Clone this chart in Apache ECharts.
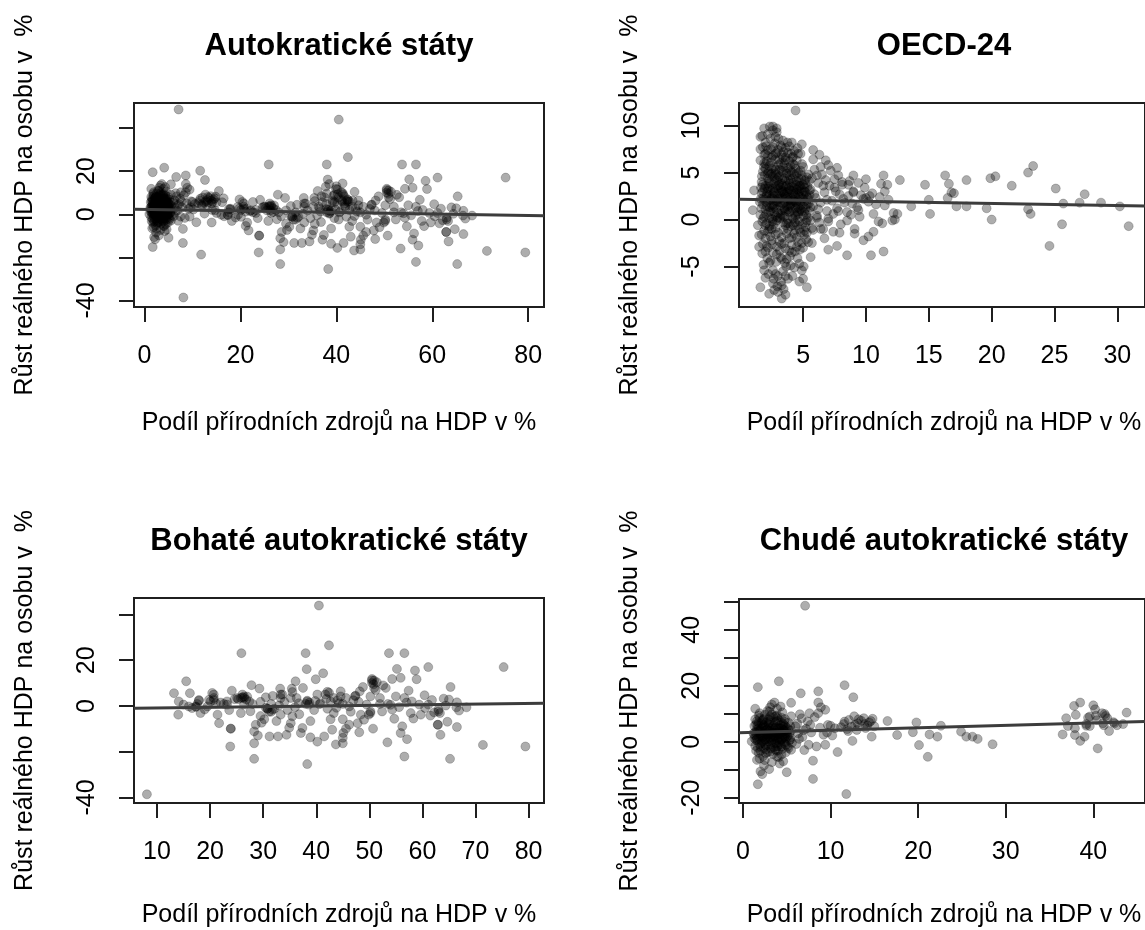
<!DOCTYPE html>
<html><head><meta charset="utf-8">
<script src="https://cdn.jsdelivr.net/npm/echarts@6/dist/echarts.min.js"></script>
<style>html,body{margin:0;padding:0;background:#fff}#c{width:1145px;height:930px}</style>
</head><body><div id="c"></div>
<script>
// ---------- texts ----------
const panelTitles = ["Autokratické státy", "OECD-24", "Bohaté autokratické státy", "Chudé autokratické státy"];
const xAxisTitle = "Podíl přírodních zdrojů na HDP v %";
const yAxisTitle = "Růst reálného HDP na osobu v  %";

// ---------- data (x = share of natural resources in GDP %, y = real GDP per capita growth %) ----------
const richPts = [
[8.1,-38.6],[40.5,43.9],[42.4,26.5],[25.9,23.1],[38.0,23.1],[38.2,16.1],[41.3,14.3],[39.9,11.7],[36.1,10.8],[15.5,10.8],
[13.2,5.6],[16.2,5.6],[24.1,6.7],[27.8,9.1],[29.3,7.6],[33.2,7.6],[35.4,7.6],[20.7,5.0],[17.9,2.3],[20.1,2.0],
[22.6,0.9],[26.1,3.8],[25.1,3.5],[27.0,4.1],[30.5,3.8],[33.3,5.0],[35.2,3.5],[38.3,2.3],[40.2,5.0],[42.4,5.8],
[14.1,2.0],[16.0,-0.2],[18.2,-3.1],[14.0,-3.8],[21.4,-3.8],[21.7,-7.5],[23.9,-9.9],[23.8,-17.7],[28.3,-16.3],[28.3,-23.1],
[28.6,-8.2],[29.0,-12.9],[31.2,-13.3],[32.8,-13.3],[34.4,-12.6],[37.4,-9.6],[37.1,-11.8],[38.3,-25.4],[40.2,-15.6],[41.5,-13.3],
[43.0,-10.4],[43.7,-16.8],[38.9,-6.6],[35.2,-7.5],[32.5,-6.6],[30.2,-5.8],[31.5,-2.5],[33.3,-3.8],[34.6,-1.8],[29.5,-4.4],
[25.8,-3.1],[23.6,-1.8],[30.8,-1.2],[32.1,-1.2],[39.6,-1.8],[42.1,-1.2],[43.3,-3.1],[42.7,-5.8],[21.1,1.2],[17.6,0.9],
[19.5,-0.2],[17.3,-0.2],[26.4,0.6],[28.0,0.9],[29.5,1.8],[31.5,0.9],[34.0,1.8],[36.7,1.2],[38.0,0.9],[40.8,1.2],
[42.7,2.0],[23.2,2.0],[19.8,2.7],[20.7,3.5],[26.1,5.0],[26.4,3.5],[17.9,2.6],[20.4,5.7],[20.7,2.6],[23.2,0.6],
[25.8,3.5],[26.4,4.2],[30.8,-1.2],[31.1,-2.5],[33.3,3.5],[33.6,5.0],[36.3,3.5],[38.3,2.0],[38.6,0.6],[41.7,5.0],
[42.1,6.2],[43.3,3.5],[28.3,-11.1],[23.9,-9.9],[15.0,0.6],[16.6,-0.9],[17.4,-0.4],
[53.7,23.1],[56.6,23.1],[55.2,16.2],[58.6,15.5],[61.1,17.0],[75.3,17.0],[58.9,11.7],[55.9,12.3],[54.3,11.8],[50.5,11.8],
[50.5,10.1],[48.8,8.3],[50.9,7.9],[53.1,7.9],[57.4,6.7],[60.4,4.7],[65.3,8.3],[64.0,3.2],[65.0,2.8],[66.5,1.6],
[66.4,-0.6],[68.3,-0.6],[47.4,4.5],[45.6,3.5],[44.6,6.4],[50.2,4.2],[52.0,3.5],[55.0,4.2],[56.6,3.5],[59.4,0.6],
[61.1,0.6],[63.0,-1.6],[63.3,-3.1],[57.8,-3.1],[59.7,-3.8],[58.3,-5.5],[54.3,-1.6],[52.4,-2.4],[50.2,-3.1],[48.4,-3.8],
[46.2,-8.2],[47.8,-7.5],[45.0,-5.8],[45.1,-11.8],[45.0,-16.3],[48.1,-11.5],[50.7,-9.9],[56.2,-8.9],[55.9,-11.8],[53.4,-15.9],
[56.6,-22.1],[62.9,-8.2],[63.4,-12.6],[66.5,-9.2],[65.2,-23.1],[71.4,-17.0],[79.4,-17.7],[52.0,0.9],[49.5,0.6],[46.2,-0.2],
[45.0,0.9],[50.5,11.2],[50.8,9.5],[47.3,4.3],[50.2,-2.4],[49.9,-3.8],[63.0,-2.4],[62.9,-8.2],[44.6,4.2],[45.0,-13.9],
[24.6,3.0],[27.4,2.0],[36.0,-0.5],[44.0,2.5],[48.0,1.8],[54.0,0.5],[57.0,1.5],[61.8,2.6],[35.5,-4.5],[31.8,4.4],
[25.3,3.0],[26.8,2.8],[30.5,-0.8],[31.8,-1.6],[33.0,0.2],[38.7,1.4],[39.8,2.2],[40.6,0.8],[41.9,3.1],[50.9,11.1],
[51.4,10.4],[51.2,7.0],[52.6,9.0],[47.0,2.5],[44.3,1.2],[43.8,-0.8],[46.5,-2.5],[53.5,0.9],[55.6,-0.5],[58.0,2.0],
[60.5,-0.9],[62.2,-2.8],[64.4,0.2],[22.0,1.5],[19.0,-1.5],[27.6,-2.3],[29.7,-7.3],[34.9,-9.5],[36.8,-3.6],[38.9,-13.7],
[45.6,-9.9],[49.0,-6.0],[54.7,-5.6],[57.1,-14.5],[61.5,-4.2],[64.7,-6.9],[66.9,-2.0],[35.5,6.1],[37.5,7.9],[48.2,6.4]
];

const poorPts = [
[7.1,48.6],[1.7,19.5],[4.1,21.6],[6.6,17.3],[8.6,18.0],[11.6,20.2],[12.6,15.9],[1.4,11.8],[3.3,13.3],[3.1,12.3],
[3.9,11.8],[5.5,13.9],[5.5,9.1],[8.6,14.0],[8.9,12.3],[9.4,11.4],[8.6,10.2],[7.6,10.2],[6.7,8.4],[7.4,7.2],
[9.7,6.0],[12.7,9.1],[13.8,8.4],[14.8,8.2],[11.6,7.2],[13.1,6.6],[14.4,6.9],[11.2,5.2],[14.7,1.8],[12.5,0.3],
[10.8,-3.7],[7.5,-1.1],[8.4,-1.7],[9.4,-1.1],[8.0,-6.8],[8.0,-13.3],[11.8,-18.7],[5.0,-10.9],[3.3,-7.3],[3.9,-5.4],
[2.8,-3.7],[1.8,-4.0],[2.0,-10.6],[2.2,-11.6],[1.7,-15.2],[5.2,-2.3],[5.4,0.7],[1.3,1.3],[1.0,0.1],
[1.5,2.0],[1.6,4.5],[1.8,6.8],[1.9,8.5],[2.0,3.2],[2.1,-0.5],[2.2,1.5],[2.3,5.5],[2.4,-2.2],[2.5,3.8],
[2.6,0.8],[2.7,7.0],[2.8,2.6],[2.9,-1.3],[3.0,4.9],[3.1,1.1],[3.2,6.1],[3.3,-0.2],[3.4,3.3],[3.5,8.8],
[3.6,2.0],[3.7,-2.8],[3.8,5.2],[3.9,0.4],[4.0,3.9],[4.1,7.6],[4.2,1.6],[4.3,-1.0],[4.4,4.6],[4.5,2.4],
[4.6,6.3],[4.7,-0.6],[4.8,3.0],[4.9,1.2],[5.0,5.0],[5.1,-1.8],[5.3,2.8],[5.5,4.0],[1.4,-1.5],[1.7,0.3],
[2.0,-3.3],[2.3,-5.2],[2.6,-4.1],[3.1,-3.6],[3.5,-2.0],[4.0,-3.2],[4.4,-4.6],[4.9,-3.8],[5.6,-0.4],[1.9,10.2],
[2.5,9.6],[3.3,9.8],[3.9,9.4],[4.5,10.5],[2.2,6.2],[2.9,8.0],[3.7,7.0],[4.8,8.1],[5.2,6.8],[6.0,5.5],
[6.3,3.0],[6.8,1.7],[7.2,4.6],[7.8,3.3],[6.1,-0.8],[6.5,9.8],[1.6,-6.5],[2.4,-8.5],[3.0,-9.8],[4.2,-7.8],
[1.3,5.6],[1.2,3.0],[1.4,8.0],[2.8,11.0],[4.3,12.6],[3.6,14.0],[12.8,6.0],[13.5,7.5],[14.2,5.8],[11.9,4.5],
[13.0,4.2],[15.0,5.5],[10.5,4.8],[10.0,5.7],[9.2,2.5],[10.2,2.2],[9.6,3.3],
[1.3,2.4],[1.5,0.6],[1.6,3.6],[1.7,5.9],[1.8,1.8],[1.9,-0.9],[2.0,4.3],[2.1,2.2],[2.2,7.5],[2.3,0.3],
[2.4,3.0],[2.5,5.1],[2.6,-1.4],[2.7,1.9],[2.8,4.5],[2.9,6.3],[3.0,0.0],[3.1,2.9],[3.2,-2.4],[3.3,4.1],
[3.4,1.4],[3.5,5.8],[3.6,-0.7],[3.7,3.1],[3.8,1.7],[3.9,7.3],[4.0,-1.6],[4.1,2.6],[4.2,4.9],[4.3,0.6],
[4.4,6.9],[4.5,-2.6],[4.6,3.5],[4.7,1.5],[4.8,5.6],[4.9,-0.1],[5.0,2.9],[5.2,4.4],[5.4,1.5],[5.5,-2.9],
[1.5,-3.2],[1.9,-6.0],[2.5,-6.6],[3.4,-4.4],[4.1,-5.5],[4.6,-7.0],[1.8,9.4],[2.4,8.1],[3.0,10.8],[3.7,9.1],
[4.4,8.6],[2.0,1.0],[2.7,3.4],[3.4,2.6],[4.0,1.1],[4.6,4.3],[2.2,4.9],[3.0,6.9],[3.6,4.6],[4.2,-0.1],
[1.4,3.4],[1.6,1.1],[1.8,4.8],[2.0,2.3],[2.2,0.1],[2.4,5.9],[2.6,2.8],[2.8,0.9],[3.0,3.8],[3.2,1.7],
[3.4,5.3],[3.6,3.0],[3.8,-0.5],[4.0,4.8],[4.2,2.9],[4.4,0.8],[4.6,5.4],[4.8,1.9],[5.0,3.7],[5.3,0.5],
[1.5,6.2],[1.7,-2.2],[1.9,3.9],[2.1,6.7],[2.3,1.9],[2.5,-0.8],[2.7,4.2],[2.9,2.4],[3.1,7.6],[3.3,0.7],
[3.5,2.2],[3.7,5.0],[3.9,-1.6],[4.1,3.4],[4.3,6.0],[4.5,1.1],[4.7,3.9],[4.9,-1.2],[5.1,2.0],[5.4,5.6],
[2.0,-1.8],[2.6,-2.8],[3.2,-1.0],[3.8,-3.2],[4.4,-1.8],[2.3,8.0],[3.1,9.0],[3.9,8.5],[1.6,7.3],[4.7,7.2],
[11.5,6.3],[12.1,7.8],[12.4,5.4],[13.2,8.0],[13.9,6.3],[14.6,7.4],[12.0,3.8],[14.0,4.9],
[6.2,6.5],[6.9,4.1],[7.7,6.0],[8.2,8.8],[8.8,5.0],[7.0,-3.0],[6.4,1.0],
[16.5,7.4],[17.6,2.4],[19.4,3.4],[19.8,6.9],[20.1,-1.2],[21.1,-5.4],[21.3,2.6],[22.2,1.8],[22.6,5.7],[24.9,3.6],
[25.5,1.8],[26.2,1.8],[26.8,1.0],[28.5,-0.9],[36.5,2.6],[36.9,8.4],[37.8,12.8],[38.5,14.0],[38.0,9.6],[37.9,4.8],
[37.9,2.4],[38.5,0.3],[39.0,1.8],[39.2,5.7],[40.0,13.0],[40.2,11.6],[40.5,-2.4],[39.4,8.6],[40.4,7.7],[41.0,10.2],
[41.4,9.2],[41.8,3.8],[41.2,5.9],[42.3,7.0],[43.8,10.4],[42.7,5.9],[41.3,9.9],[41.6,8.4],[42.4,6.6],[43.4,6.3],
[39.2,6.3],[40.3,9.3],[39.6,5.6],[41.1,6.6],[37.1,5.6],[39.6,9.0]
];

const oecdPts = [
[1.6,0.5],[1.7,2.8],[1.8,5.1],[1.9,-1.2],[2.0,3.6],[2.0,1.1],[2.1,6.2],[2.1,-0.4],[2.2,4.4],[2.2,2.0],
[2.3,0.2],[2.3,5.7],[2.4,3.1],[2.4,-1.8],[2.5,1.5],[2.5,4.9],[2.6,6.8],[2.6,0.0],[2.7,2.5],[2.7,3.9],
[2.8,-0.9],[2.8,5.3],[2.9,1.8],[2.9,7.1],[3.0,3.3],[3.0,0.7],[3.1,4.6],[3.1,-2.3],[3.2,2.2],[3.2,6.0],
[3.3,1.0],[3.3,3.8],[3.4,-0.3],[3.4,5.0],[3.5,2.7],[3.5,0.3],[3.6,4.1],[3.6,6.6],[3.7,1.4],[3.7,-1.5],
[3.8,3.0],[3.8,5.5],[3.9,0.8],[3.9,2.1],[4.0,4.3],[4.0,-0.7],[4.1,3.5],[4.1,1.7],[4.2,5.9],[4.2,0.1],
[4.3,2.6],[4.3,4.8],[4.4,-1.1],[4.4,1.2],[4.5,3.2],[4.5,6.3],[4.6,0.6],[4.6,2.0],[4.7,4.0],[4.7,-0.2],
[4.8,1.5],[4.8,5.2],[4.9,2.9],[5.0,0.4],[5.0,3.7],[5.1,1.9],[5.2,-0.8],[5.3,4.5],[5.4,2.3],[5.5,0.9],
[1.7,4.0],[1.8,1.6],[1.9,6.9],[2.0,-2.0],[2.2,7.4],[2.3,3.5],[2.4,0.9],[2.5,-1.0],[2.6,2.2],[2.7,5.6],
[2.8,0.4],[2.9,4.2],[3.0,-1.4],[3.1,2.8],[3.2,0.2],[3.3,6.9],[3.4,1.7],[3.5,4.4],[3.6,-0.6],[3.7,3.6],
[3.8,1.1],[3.9,6.2],[4.0,2.4],[4.1,-1.9],[4.2,3.9],[4.3,0.7],[4.4,5.4],[4.5,1.6],[4.6,3.4],[4.7,2.5],
[4.8,-1.4],[4.9,4.7],[5.1,3.0],[5.2,1.2],[5.3,-0.1],[2.1,2.7],[2.6,4.6],[3.0,1.9],[3.5,-2.5],[4.0,0.9],
[3.3,2.4],[2.8,3.4],[3.7,4.9],[4.4,2.8],[3.9,-2.0],
[1.55,1.9],[1.65,3.4],[1.75,-0.2],[1.85,2.3],[1.95,4.7],[2.05,0.6],[2.15,3.0],[2.25,5.1],[2.35,1.3],[2.45,6.1],
[2.55,2.6],[2.65,-0.5],[2.75,4.4],[2.85,1.1],[2.95,3.6],[3.05,5.8],[3.15,0.1],[3.25,2.9],[3.35,4.3],[3.45,-1.1],
[3.55,1.9],[3.65,5.2],[3.75,2.4],[3.85,-0.4],[3.95,3.9],[4.05,1.3],[4.15,6.6],[4.25,2.1],[4.35,-0.3],[4.45,3.7],
[4.55,0.8],[4.65,5.0],[4.75,1.9],[4.85,3.3],[4.95,-0.5],[5.05,2.6],[5.15,4.2],[5.25,0.5],[5.35,3.5],[5.45,1.7],
[1.6,6.3],[1.7,-1.6],[1.8,3.0],[1.9,0.3],[2.0,5.4],[2.1,1.8],[2.2,-1.3],[2.3,2.6],[2.4,4.8],[2.5,0.1],
[2.6,3.3],[2.7,1.4],[2.8,6.4],[2.9,-0.1],[3.0,2.5],[3.1,5.3],[3.2,1.5],[3.3,-1.9],[3.4,3.6],[3.5,6.0],
[3.6,0.9],[3.7,2.9],[3.8,-1.0],[3.9,4.7],[4.0,1.6],[4.1,5.0],[4.2,-0.6],[4.3,3.4],[4.4,0.4],[4.5,4.9],
[4.6,2.7],[4.7,-1.0],[4.8,3.6],[4.9,0.9],[5.0,5.6],[5.1,-1.2],[5.2,2.9],[5.3,1.6],[5.5,3.1],[5.6,-0.1],
[2.05,7.8],[2.45,7.5],[2.75,8.1],[3.05,8.6],[3.45,7.2],[3.75,8.2],[4.05,7.0],[4.55,7.6],[1.75,8.9],[2.35,9.9],
[1.75,-3.6],[2.15,-4.1],[2.55,-2.6],[2.85,-4.5],[3.15,-3.3],[3.55,-4.6],[3.95,-3.9],[4.35,-3.4],[4.75,-3.2],[5.25,-2.1],
[2.25,-5.8],[2.65,-6.3],[3.25,-6.6],[3.65,-5.0],[4.15,-6.0],[4.55,-4.1],[5.05,-5.0],[1.85,-4.8],[2.95,-7.1],[3.45,-7.4],
[1.9,2.1],[2.3,4.1],[2.7,0.8],[3.1,3.9],[3.5,1.2],[3.9,3.2],[4.3,1.9],[4.7,3.0],[5.1,0.8],[2.5,2.3],
[3.0,4.4],[3.4,2.9],[3.8,2.0],[4.2,2.8],[4.6,1.3],[2.2,3.3],[2.6,1.2],[3.2,3.4],[3.6,2.5],[4.0,3.1],
[1.62,2.2],[1.72,4.6],[1.82,0.1],[1.92,3.3],[2.02,5.9],[2.12,1.4],[2.22,3.8],[2.32,-0.7],[2.42,2.1],[2.52,5.4],
[2.62,1.6],[2.72,3.0],[2.82,-1.6],[2.92,4.8],[3.02,2.2],[3.12,6.4],[3.22,0.6],[3.32,3.1],[3.42,5.6],[3.52,1.0],
[3.62,3.5],[3.72,-0.4],[3.82,4.2],[3.92,1.5],[4.02,5.2],[4.12,0.3],[4.22,3.0],[4.32,5.8],[4.42,1.8],[4.52,-0.6],
[4.62,4.4],[4.72,0.9],[4.82,2.4],[4.92,5.9],[5.02,1.4],[5.12,3.4],[5.22,-0.3],[5.32,2.1],[5.42,4.8],[5.52,2.6],
[1.68,1.2],[1.78,3.7],[1.88,5.6],[1.98,-0.6],[2.08,2.5],[2.18,4.9],[2.28,0.8],[2.38,3.9],[2.48,6.6],[2.58,-0.2],
[2.68,2.9],[2.78,4.9],[2.88,2.0],[2.98,0.2],[3.08,3.7],[3.18,1.8],[3.28,5.2],[3.38,0.4],[3.48,3.0],[3.58,6.3],
[3.68,2.2],[3.78,0.0],[3.88,3.4],[3.98,5.7],[4.08,2.0],[4.18,4.4],[4.28,-1.5],[4.38,2.4],[4.48,4.1],[4.58,0.0],
[4.68,3.6],[4.78,1.1],[4.88,4.3],[4.98,2.2],[5.08,-1.6],[5.18,3.8],[5.28,2.5],[5.38,0.2],[5.48,4.1],[5.58,1.3],
[2.1,-2.8],[2.5,-2.2],[2.9,-3.7],[3.3,-2.6],[3.7,-4.2],[4.1,-3.5],[4.5,-1.9],[4.9,-2.5],[5.3,-1.4],[2.3,-1.0],
[2.2,6.8],[2.6,7.7],[3.0,7.4],[3.4,6.6],[3.8,7.1],[4.2,6.7],[4.6,7.0],[2.8,7.0],[3.6,7.6],[1.9,6.0],
[2.0,8.2],[2.4,8.6],[2.9,9.3],[3.4,8.4],[3.9,7.8],[4.3,7.3],[1.6,7.5],[2.6,9.5],[3.2,7.9],
[1.8,-2.6],[2.2,-3.0],[2.6,-3.5],[2.9,-2.9],[3.3,-4.2],[3.6,-3.1],[4.1,-2.7],[4.6,-2.4],[5.0,-3.0],[2.4,-4.4],
[2.8,-5.8],[3.4,-5.5],[3.8,-6.3],[4.3,-5.1],[3.0,-7.7],[2.0,-6.2],[4.7,-6.6],[3.6,-8.0],[2.3,-7.9],
[4.4,11.6],[1.9,9.7],[2.6,9.9],[2.9,9.7],[2.2,9.1],[1.6,8.8],[2.8,8.8],[4.1,8.2],[4.9,8.0],[5.8,7.4],
[3.3,7.7],[1.8,7.7],[2.0,7.0],[4.8,7.0],[6.8,6.3],[7.0,5.8],[7.7,5.5],[6.4,5.6],[7.8,4.7],[9.0,4.7],
[11.4,4.7],[12.7,4.2],[10.0,4.3],[11.2,3.8],[11.7,3.7],[9.4,3.9],[6.1,4.7],[8.1,4.0],[8.6,3.7],[6.8,4.2],
[7.5,3.4],[9.0,3.0],[10.0,2.3],[9.8,2.2],[10.3,2.5],[11.5,3.0],[13.6,1.4],[12.5,0.6],[12.1,-0.1],[11.3,-0.4],
[10.6,-1.3],[10.2,-1.8],[9.8,-2.2],[9.1,-1.0],[9.1,-1.5],[8.5,-0.1],[9.4,1.0],[7.8,0.9],[7.0,-0.2],[7.4,-1.3],
[6.6,-1.0],[6.4,-1.0],[6.1,0.4],[5.8,-1.1],[5.7,-2.5],[5.6,-4.0],[5.3,-7.2],[5.0,-6.3],[4.9,-5.4],[4.7,-4.7],
[5.4,-2.4],[7.0,-3.2],[7.7,-2.8],[8.5,-3.8],[10.4,-3.8],[11.4,-3.4],[3.3,-8.4],[1.6,-7.2],[2.6,-6.8],[2.7,-7.5],
[3.0,-6.0],[1.9,-5.4],[2.6,-5.4],[3.6,-6.0],[3.3,-7.0],[4.0,-4.9],[2.3,-4.6],[3.2,-4.0],[1.5,-2.9],[2.0,-3.4],
[3.9,-3.3],[4.5,-2.9],[1.0,1.0],[1.1,3.1],[1.4,-0.6],[1.5,-1.7],[12.3,0.0],
[5.6,3.2],[5.8,1.4],[5.9,5.3],[6.0,2.3],[6.1,0.2],[6.2,3.9],[6.4,1.8],[6.5,4.8],[6.7,2.9],[6.9,0.9],
[7.1,3.6],[7.3,2.0],[7.5,4.3],[7.7,1.2],[7.9,2.7],[8.1,3.7],[8.3,1.8],[8.6,2.5],[8.8,0.5],[9.0,2.9],
[9.3,1.3],[9.6,2.6],[9.9,3.4],[10.2,1.9],[10.5,2.8],[10.8,1.6],[11.1,2.4],[11.5,1.5],[11.8,2.1],[12.2,0.7],
[5.7,-0.9],[6.3,-0.3],[7.0,0.1],[8.0,-0.5],[8.5,0.8],[10.6,0.6],[11.0,-0.2],[9.5,0.3],
[5.7,4.4],[5.9,2.7],[6.2,1.1],[6.6,3.6],[6.9,2.1],[7.2,5.2],[7.4,0.6],[7.6,3.0],[8.2,2.2],[8.9,1.7],
[5.8,6.4],[6.3,6.9],[6.7,-2.0],[7.9,-1.4],[8.7,4.1],
[14.7,3.7],[15.1,0.6],[15.0,2.1],[16.3,4.7],[16.6,3.8],[16.8,2.9],[17.0,2.8],[16.5,2.3],[17.2,1.4],[18.0,4.2],
[18.0,1.4],[19.6,1.2],[20.0,0.0],[19.9,4.4],[20.3,4.6],[21.6,3.6],[22.9,5.0],[23.3,5.7],[22.9,1.1],[23.1,0.6],
[24.6,-2.8],[25.1,3.3],[25.7,1.7],[25.6,-0.5],[27.0,1.8],[27.4,2.7],[28.7,1.8],[30.2,1.4],[30.9,-0.7]
];

// panel 1 ("Autokratické státy") = all autocratic states = rich + poor
const autocPts = richPts.concat(poorPts);

// ---------- axes: extents, ticks, shown labels ----------
const p1X = [-2.2, 83.3], p1Y = [-43, 51.6];
const p2X = [-0.1, 32.2], p2Y = [-9.3, 12.4];
const p3X = [5.67, 82.9], p3Y = [-42.4, 47.2];
const p4X = [-0.45, 45.9], p4Y = [-21.9, 51];

const p1XTicks = [0, 20, 40, 60, 80];
const p1YTicks = [-40, -20, 0, 20, 40];
const p1YLabels = [-40, 0, 20];
const p2XTicks = [5, 10, 15, 20, 25, 30];
const p2YTicks = [-5, 0, 5, 10];
const p2YLabels = [-5, 0, 5, 10];
const p3XTicks = [10, 20, 30, 40, 50, 60, 70, 80];
const p3YTicks = [-40, -20, 0, 20, 40];
const p3YLabels = [-40, 0, 20];
const p4XTicks = [0, 10, 20, 30, 40];
const p4YTicks = [-20, -10, 0, 10, 20, 30, 40, 50];
const p4YLabels = [-20, 0, 20, 40];

// ---------- fitted lines (end points) ----------
const p1Fit = [[-2.2, 2.3], [83.3, -0.65]];
const p2Fit = [[-0.1, 2.15], [32.2, 1.45]];
const p3Fit = [[5.67, -1.0], [82.9, 1.2]];
const p4Fit = [[-0.45, 3.2], [45.9, 7.2]];

// ---------- build chart ----------
const FONT = '"Liberation Sans", Arial, Helvetica, sans-serif';
const BOX = '#1f1f1f';
const grids = [
  {left: 134, top: 103, width: 410, height: 204},
  {left: 739, top: 103, width: 410, height: 204},
  {left: 134, top: 598, width: 410, height: 205},
  {left: 739, top: 599, width: 410, height: 204}
];
const panels = [
  {pts: autocPts, fit: p1Fit, x: p1X, y: p1Y, xt: p1XTicks, yt: p1YTicks, yl: p1YLabels},
  {pts: oecdPts,  fit: p2Fit, x: p2X, y: p2Y, xt: p2XTicks, yt: p2YTicks, yl: p2YLabels},
  {pts: richPts,  fit: p3Fit, x: p3X, y: p3Y, xt: p3XTicks, yt: p3YTicks, yl: p3YLabels},
  {pts: poorPts,  fit: p4Fit, x: p4X, y: p4Y, xt: p4XTicks, yt: p4YTicks, yl: p4YLabels}
];

const tickStyle = {color: BOX, width: 2};
const labelStyle = {fontSize: 25, color: '#000', fontFamily: FONT};

const option = {
  animation: false,
  backgroundColor: '#fff',
  grid: grids.map(g => Object.assign({show: true, borderColor: BOX, borderWidth: 2, backgroundColor: 'transparent'}, g)),
  xAxis: panels.map((p, i) => ({
    type: 'value', gridIndex: i, min: p.x[0], max: p.x[1], position: 'bottom',
    axisLine: {show: false, onZero: false}, splitLine: {show: false},
    axisTick: {show: true, inside: false, length: 15, lineStyle: tickStyle, customValues: p.xt},
    axisLabel: Object.assign({margin: 37, customValues: p.xt, formatter: v => String(v)}, labelStyle)
  })),
  yAxis: panels.map((p, i) => ({
    type: 'value', gridIndex: i, min: p.y[0], max: p.y[1], position: 'left',
    axisLine: {show: false, onZero: false}, splitLine: {show: false},
    axisTick: {show: true, inside: false, length: 15, lineStyle: tickStyle, customValues: p.yt},
    axisLabel: Object.assign({margin: 34, rotate: 90, customValues: p.yl, formatter: v => String(v)}, labelStyle)
  })),
  series: [].concat(
    panels.map((p, i) => ({
      type: 'scatter', xAxisIndex: i, yAxisIndex: i, data: p.pts, symbol: 'circle', symbolSize: 9,
      silent: true, z: 2,
      itemStyle: {color: 'rgba(0,0,0,0.4)', borderColor: 'rgba(0,0,0,0.25)', borderWidth: 1}
    })),
    panels.map((p, i) => ({
      type: 'line', xAxisIndex: i, yAxisIndex: i, data: p.fit, symbol: 'none', silent: true, z: 3,
      lineStyle: {color: '#3c3c3c', width: 3}
    }))
  ),
  graphic: []
};

const centers = grids.map(g => ({cx: g.left + 205, cy: g.top + g.height / 2}));
const titleY = [46, 46, 541, 541];
const xTitleY = [423, 423, 915, 915];
const yTitleX = [25, 630, 25, 630];
centers.forEach((c, i) => {
  option.graphic.push({type: 'text', x: c.cx, y: titleY[i], silent: true,
    style: {text: panelTitles[i], font: 'bold 31px ' + FONT, fill: '#000', textAlign: 'center', textVerticalAlign: 'middle'}});
  option.graphic.push({type: 'text', x: c.cx, y: xTitleY[i], silent: true,
    style: {text: xAxisTitle, font: '25px ' + FONT, fill: '#000', textAlign: 'center', textVerticalAlign: 'middle'}});
  option.graphic.push({type: 'text', x: yTitleX[i], y: c.cy, rotation: Math.PI / 2, silent: true,
    style: {text: yAxisTitle, font: '25px ' + FONT, fill: '#000', textAlign: 'center', textVerticalAlign: 'middle'}});
});

const chart = echarts.init(document.getElementById('c'), null, {renderer: 'canvas'});
chart.setOption(option);
</script>
</body></html>
